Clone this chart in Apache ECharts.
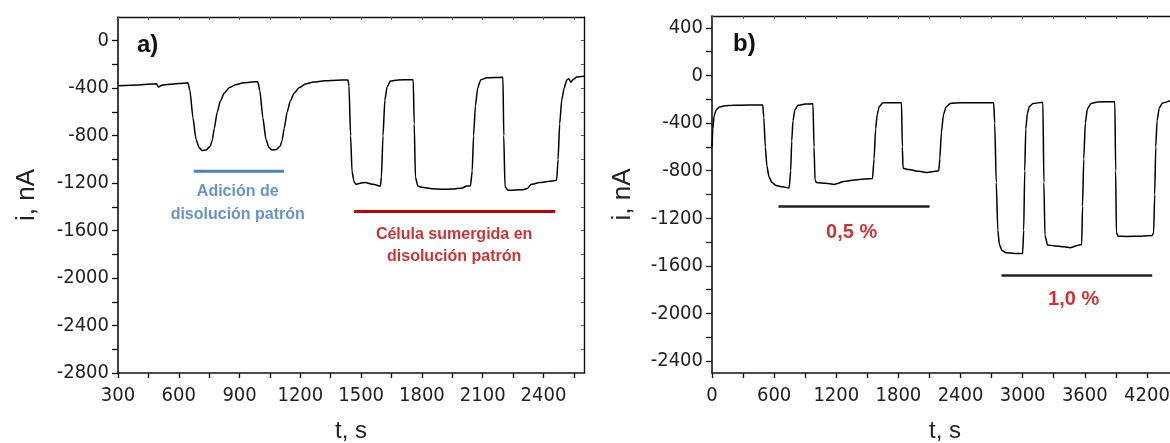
<!DOCTYPE html>
<html>
<head>
<meta charset="utf-8">
<script src="https://cdn.jsdelivr.net/npm/echarts@6/dist/echarts.min.js"></script>
<style>
  html, body { margin: 0; padding: 0; background: #fff; }
  #chart { width: 1170px; height: 443px; }
</style>
</head>
<body>
<div id="chart"></div>
<script>
// Panel a): current vs time, additions of standard solution
const tA = [300, 400, 490, 500, 520, 600, 645,
  655, 670, 685, 700, 715, 735, 755, 765, 775, 790, 805, 825, 850, 880, 920, 960, 990,
  1000, 1015, 1030, 1045, 1060, 1080, 1100, 1110, 1120, 1135, 1150, 1170, 1195, 1225, 1265, 1320, 1380, 1435,
  1440, 1448, 1455, 1465, 1475, 1495, 1520, 1560, 1595,
  1600, 1608, 1617, 1628, 1645, 1680, 1757,
  1762, 1768, 1780, 1800, 1850, 1900, 1950, 2000, 2020, 2040,
  2048, 2055, 2064, 2075, 2090, 2120, 2200,
  2204, 2210, 2225, 2260, 2300, 2320, 2340, 2380, 2430, 2465,
  2472, 2480, 2490, 2502, 2515, 2525, 2535, 2548, 2565, 2600];
const iA = [-380, -372, -362, -390, -372, -360, -355,
  -420, -650, -830, -900, -925, -920, -890, -840, -740, -600, -510, -440, -395, -370, -355, -348, -345,
  -420, -650, -830, -900, -920, -918, -890, -840, -740, -600, -510, -440, -395, -365, -348, -338, -332, -330,
  -380, -800, -1100, -1190, -1210, -1200, -1195, -1210, -1225,
  -1150, -800, -500, -390, -340, -330, -328,
  -700, -1150, -1225, -1235, -1248, -1252, -1250, -1240, -1225, -1222,
  -1100, -800, -550, -400, -330, -312, -308,
  -800, -1230, -1260, -1258, -1255, -1245, -1210, -1195, -1185, -1175,
  -1000, -700, -500, -400, -330, -320, -350, -325, -305, -300];

// Panel b): current vs time, 0,5 % and 1,0 % immersions
const tB = [0, 8, 20, 40, 70, 120, 200, 350, 490,
  500, 515, 530, 550, 580, 620, 680, 745,
  760, 770, 782, 800, 830, 900, 975,
  985, 995, 1010, 1100, 1180, 1220, 1270, 1400, 1550,
  1565, 1580, 1595, 1615, 1650, 1750, 1830,
  1838, 1845, 1900, 2000, 2085, 2130, 2190,
  2200, 2215, 2235, 2260, 2300, 2400, 2600, 2720,
  2730, 2745, 2760, 2775, 2800, 2840, 2920, 3000,
  3010, 3020, 3030, 3045, 3065, 3100, 3195,
  3205, 3215, 3240, 3300, 3400, 3460, 3520, 3570,
  3578, 3590, 3605, 3625, 3660, 3720, 3890,
  3898, 3905, 3920, 4000, 4150, 4250, 4265,
  4275, 4285, 4298, 4320, 4350, 4420, 4500];
const iB = [-600, -450, -340, -290, -265, -255, -250, -248, -248,
  -350, -600, -760, -850, -900, -925, -935, -945,
  -800, -550, -380, -290, -250, -240, -238,
  -600, -880, -900, -905, -915, -905, -890, -875, -865,
  -700, -450, -330, -260, -230, -228, -228,
  -600, -780, -790, -805, -815, -808, -800,
  -700, -480, -330, -265, -235, -228, -228, -228,
  -400, -900, -1300, -1420, -1470, -1490, -1495, -1495,
  -1300, -800, -450, -320, -260, -235, -225,
  -900, -1340, -1425, -1430, -1440, -1448, -1430, -1420,
  -1100, -700, -400, -280, -235, -222, -220,
  -800, -1320, -1350, -1352, -1350, -1345, -1320,
  -1000, -600, -380, -270, -232, -215, -212];

// Tick positions and labelled values
const xTicksA = [300, 450, 600, 750, 900, 1050, 1200, 1350, 1500, 1650, 1800, 1950, 2100, 2250, 2400, 2550];
const xLabelsA = [300, 600, 900, 1200, 1500, 1800, 2100, 2400];
const yTicksA = [-2800, -2600, -2400, -2200, -2000, -1800, -1600, -1400, -1200, -1000, -800, -600, -400, -200, 0];
const yLabelsA = [-2800, -2400, -2000, -1600, -1200, -800, -400, 0];
const xTicksB = [0, 300, 600, 900, 1200, 1500, 1800, 2100, 2400, 2700, 3000, 3300, 3600, 3900, 4200];
const xLabelsB = [0, 600, 1200, 1800, 2400, 3000, 3600, 4200];
const yTicksB = [-2400, -2200, -2000, -1800, -1600, -1400, -1200, -1000, -800, -600, -400, -200, 0, 200, 400];
const yLabelsB = [-2400, -2000, -1600, -1200, -800, -400, 0, 400];

// Annotation bars: [tStart, tEnd, level]
const barAddition = [674, 1119, -1100];
const barImmersed = [1465, 2458, -1440];
const barHalf = [641, 2101, -1100];
const barOne = [2796, 4251, -1680];

// Annotation texts with their anchor (t, i)
const txtAddition = ['Adición de\ndisolución patrón', 891, -1364];
const txtImmersed = ['Célula sumergida en\ndisolución patrón', 1959, -1725];
const txtHalf = ['0,5 %', 1348, -1319];
const txtOne = ['1,0 %', 3492, -1884];

const zip = (xs, ys) => xs.map((x, k) => [x, ys[k]]);
const bar = b => [[b[0], b[2]], [b[1], b[2]]];
const plain = v => String(v);

const tickFont = "'Liberation Sans Narrow', 'DejaVu Sans Condensed', 'Liberation Sans', sans-serif";
const nameFont = "'Liberation Sans', Arial, sans-serif";
const AX = '#111';

function mainX(grid, min, max, ticks, labels) {
  return {
    type: 'value', gridIndex: grid, position: 'bottom', min, max,
    axisLine: { show: true, onZero: false, lineStyle: { color: AX, width: 1.6 } },
    axisTick: { show: true, inside: false, length: 5, customValues: ticks, lineStyle: { color: AX, width: 1.3 } },
    axisLabel: { color: '#222', fontFamily: tickFont, fontSize: 20, margin: 13, customValues: labels, formatter: plain },
    splitLine: { show: false },
    name: 't, s', nameLocation: 'middle', nameGap: 46,
    nameTextStyle: { color: '#222', fontFamily: nameFont, fontSize: 24 }
  };
}
function borderX(grid, min, max, ticks) {
  return {
    type: 'value', gridIndex: grid, position: 'top', min, max,
    axisLine: { show: true, onZero: false, lineStyle: { color: AX, width: 1.4 } },
    axisTick: { show: true, inside: true, length: 3, customValues: ticks, lineStyle: { color: '#555', width: 1 } },
    axisLabel: { show: false }, splitLine: { show: false }
  };
}
function mainY(grid, min, max, ticks, labels, gap) {
  return {
    type: 'value', gridIndex: grid, position: 'left', min, max,
    axisLine: { show: true, onZero: false, lineStyle: { color: AX, width: 1.6 } },
    axisTick: { show: true, inside: false, length: 6, customValues: ticks, lineStyle: { color: AX, width: 1.3 } },
    axisLabel: { color: '#222', fontFamily: tickFont, fontSize: 20, margin: 9, customValues: labels, formatter: plain },
    splitLine: { show: false },
    name: 'i, nA', nameLocation: 'middle', nameGap: gap,
    nameTextStyle: { color: '#222', fontFamily: nameFont, fontSize: 26 }
  };
}
function borderY(grid, min, max, ticks) {
  return {
    type: 'value', gridIndex: grid, position: 'right', min, max,
    axisLine: { show: true, onZero: false, lineStyle: { color: AX, width: 1.4 } },
    axisTick: { show: true, inside: true, length: 3, customValues: ticks, lineStyle: { color: '#555', width: 1 } },
    axisLabel: { show: false }, splitLine: { show: false }
  };
}

function trace(xi, yi, data) {
  return {
    type: 'line', xAxisIndex: xi, yAxisIndex: yi, data, showSymbol: false, symbol: 'none',
    smooth: 0.2, smoothMonotone: 'x', silent: true, animation: false,
    lineStyle: { color: '#000', width: 1.5 }
  };
}
function segment(xi, yi, b, color, width) {
  return {
    type: 'line', xAxisIndex: xi, yAxisIndex: yi, data: bar(b), symbol: 'none',
    silent: true, animation: false, lineStyle: { color, width }
  };
}
function note(xi, yi, t, color, size, lh) {
  return {
    type: 'scatter', xAxisIndex: xi, yAxisIndex: yi, data: [[t[1], t[2]]],
    symbolSize: 0, silent: true, animation: false,
    label: {
      show: true, position: 'inside', formatter: t[0], color,
      fontFamily: nameFont, fontWeight: 'bold', fontSize: size, lineHeight: lh, align: 'center'
    }
  };
}

const chart = echarts.init(document.getElementById('chart'), null, { renderer: 'canvas' });
chart.setOption({
  animation: false,
  backgroundColor: '#fff',
  grid: [
    { left: 118, top: 17, width: 466, height: 356, outerBoundsMode: 'none', containLabel: false },
    { left: 712, top: 16, width: 466, height: 357, outerBoundsMode: 'none', containLabel: false }
  ],
  xAxis: [
    mainX(0, 300, 2600, xTicksA, xLabelsA),
    borderX(0, 300, 2600, xTicksA),
    mainX(1, 0, 4500, xTicksB, xLabelsB),
    borderX(1, 0, 4500, xTicksB)
  ],
  yAxis: [
    mainY(0, -2800, 200, yTicksA, yLabelsA, 78),
    borderY(0, -2800, 200, yTicksA),
    mainY(1, -2500, 500, yTicksB, yLabelsB, 76),
    borderY(1, -2500, 500, yTicksB)
  ],
  graphic: [
    { type: 'text', left: 137, top: 33, style: { text: 'a)', fontFamily: nameFont, fontWeight: 'bold', fontSize: 24, fill: '#111' } },
    { type: 'text', left: 733, top: 32, style: { text: 'b)', fontFamily: nameFont, fontWeight: 'bold', fontSize: 24, fill: '#111' } }
  ],
  series: [
    trace(0, 0, zip(tA, iA)),
    segment(0, 0, barAddition, '#4f81bd', 3),
    segment(0, 0, barImmersed, '#c00000', 3),
    note(0, 0, txtAddition, '#3f78bd', 16, 23),
    note(0, 0, txtImmersed, '#c00000', 16, 22),
    trace(2, 2, zip(tB, iB)),
    segment(2, 2, barHalf, '#222', 2.5),
    segment(2, 2, barOne, '#222', 2.5),
    note(2, 2, txtHalf, '#c00000', 20, 24),
    note(2, 2, txtOne, '#c00000', 20, 24)
  ]
});
</script>
</body>
</html>
